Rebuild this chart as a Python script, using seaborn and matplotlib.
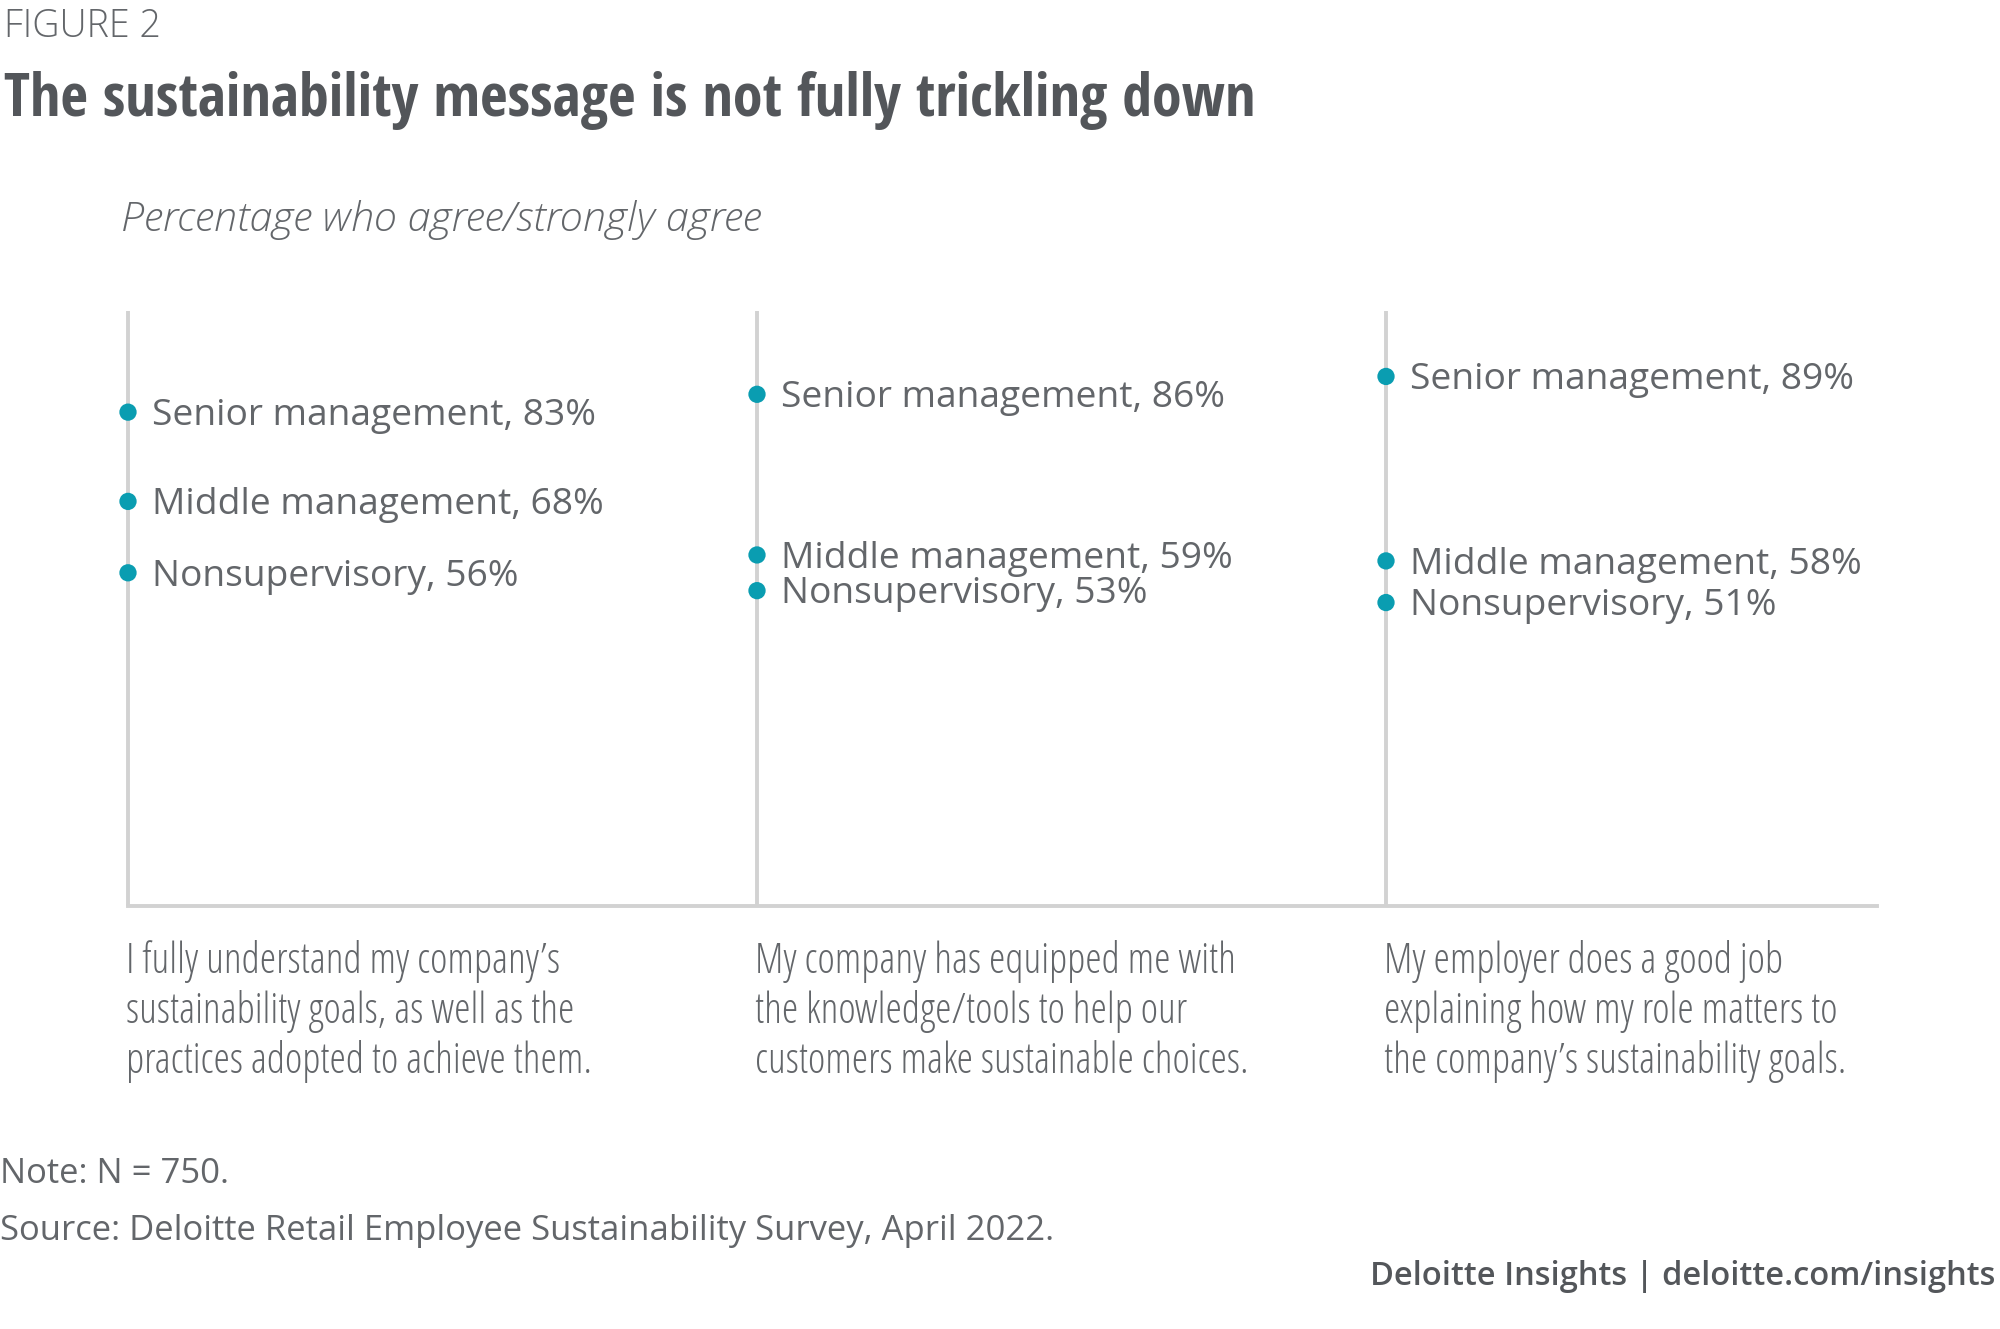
import matplotlib
matplotlib.use("Agg")
import matplotlib.pyplot as plt
from matplotlib import font_manager
from matplotlib.font_manager import FontProperties
import pandas as pd
import seaborn as sns

# Data
STATEMENTS = [
    ["I fully understand my company\u2019s",
     "sustainability goals, as well as the",
     "practices adopted to achieve them."],
    ["My company has equipped me with",
     "the knowledge/tools to help our",
     "customers make sustainable choices."],
    ["My employer does a good job",
     "explaining how my role matters to",
     "the company\u2019s sustainability goals."],
]
GROUPS = ["Senior management", "Middle management", "Nonsupervisory"]
SENIOR = [83, 86, 89]
MIDDLE = [68, 59, 58]
NONSUP = [56, 53, 51]

TEAL = "#0a9db1"
GRID = "#d2d2d2"
TEXT = "#63666a"
DARK = "#53565a"

W, H = 2000, 1329

available = {f.name for f in font_manager.fontManager.ttflist}


def pick(cands):
    for c in cands:
        if c in available:
            return c
    return "DejaVu Sans"


def font_file(filename, size, fallback_family, weight="normal", style="normal"):
    # some Open Sans cuts share the same family name, so go by file
    for f in font_manager.fontManager.ttflist:
        if f.fname.endswith("/" + filename):
            return FontProperties(fname=f.fname, size=size)
    return FontProperties(family=fallback_family, size=size, weight=weight, style=style)


SANS = pick(["Open Sans", "Noto Sans", "DejaVu Sans"])
COND_BOLD = pick(["Open Sans Condensed", "Roboto Condensed", "Liberation Sans Narrow", SANS])

sns.set_theme(style="white")
plt.rcParams["font.family"] = [SANS, "DejaVu Sans"]

rows = []
for i in range(len(STATEMENTS)):
    for g, vals in zip(GROUPS, [SENIOR, MIDDLE, NONSUP]):
        rows.append({"pos": i, "group": g, "value": vals[i]})
df = pd.DataFrame(rows)

SPACING = 629
fig = plt.figure(figsize=(W / 100, H / 100), dpi=100)
ax = fig.add_axes([128 / W, 1 - 906 / H, 1749 / W, (906 - 311) / H])

# vertical guide lines for each statement
ax.vlines(range(len(STATEMENTS)), 0, 100, color=GRID, lw=2.8, zorder=1, clip_on=False)

sns.scatterplot(data=df, x="pos", y="value", color=TEAL, s=155, edgecolor="none",
                legend=False, ax=ax, zorder=3, clip_on=False)

for _, r in df.iterrows():
    ax.annotate(f"{r['group']}, {r['value']}%", xy=(r["pos"], r["value"]),
                xytext=(17, 0.5), textcoords="offset points", ha="left",
                va="center_baseline", fontsize=26.7, color=TEXT, family=SANS)

stmt_font = font_file("OpenSans-CondLight.ttf", 30, SANS, weight="light")
for i, lines in enumerate(STATEMENTS):
    for k, line in enumerate(lines):
        ax.annotate(line, xy=(i, 0), xytext=(-1.5, -48 - 36 * k),
                    textcoords="offset points", ha="left", va="baseline",
                    color=TEXT, fontproperties=stmt_font, annotation_clip=False)

ax.set_xlim(0, 1749 / SPACING)
ax.set_ylim(0, 100)
ax.set_xticks([])
ax.set_yticks([])
ax.set_xlabel("")
ax.set_ylabel("")
for side in ["top", "left", "right"]:
    ax.spines[side].set_visible(False)
ax.spines["bottom"].set_color(GRID)
ax.spines["bottom"].set_linewidth(2.8)


def ftext(x, y, s, **kw):
    fig.text(x / W, 1 - y / H, s, va="baseline", **kw)


ftext(4, 37, "FIGURE 2", color=TEXT,
      fontproperties=font_file("OpenSans-Light.ttf", 27.1, SANS, weight="light"))
ftext(4, 116, "The sustainability message is not fully trickling down",
      fontsize=43.3, color=DARK, family=COND_BOLD, weight="bold")
ftext(121, 231, "Percentage who agree/strongly agree", color=TEXT,
      fontproperties=font_file("OpenSans-LightItalic.ttf", 29.8, SANS,
                               weight="light", style="italic"))
ftext(0, 1183, "Note: N = 750.", fontsize=24.9, color=TEXT, family=SANS)
ftext(0, 1240, "Source: Deloitte Retail Employee Sustainability Survey, April 2022.",
      fontsize=24.9, color=TEXT, family=SANS)
fig.text(1995 / W, 1 - 1285 / H, "Deloitte Insights | deloitte.com/insights",
         ha="right", va="baseline", fontsize=23.5, color=DARK, family=SANS,
         weight="semibold")

fig.savefig("out.png", dpi=100)
